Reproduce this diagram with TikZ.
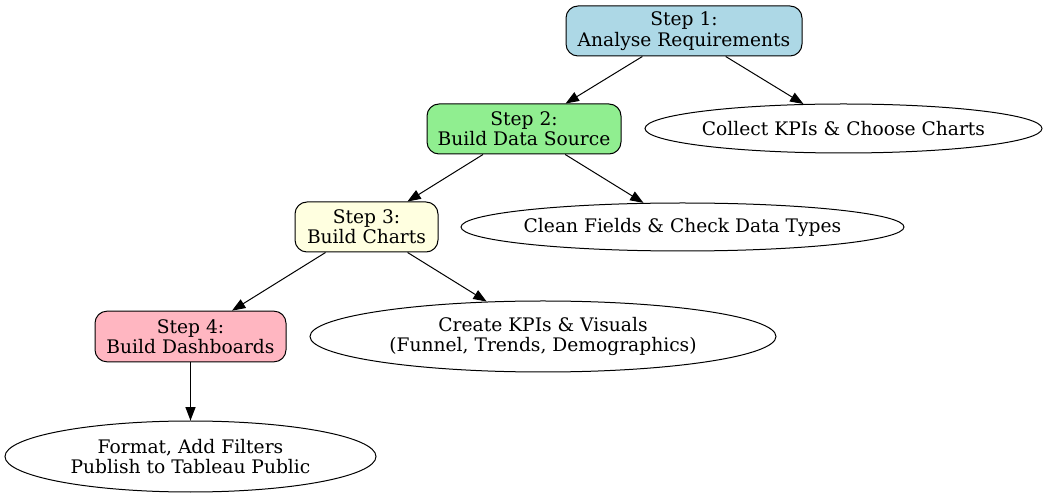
\documentclass[tikz,border=0pt]{standalone}
\usepackage{fontspec}
\setmainfont{DejaVu Serif}
\usetikzlibrary{shapes.geometric,arrows.meta}
\definecolor{cstepA}{RGB}{173,216,230}
\definecolor{cstepB}{RGB}{144,238,144}
\definecolor{cstepC}{RGB}{255,255,224}
\definecolor{cstepD}{RGB}{255,182,193}
\begin{document}
\begin{tikzpicture}[x=0.75pt,y=-0.75pt,
  every node/.style={font=\fontsize{14}{15.3}\selectfont, align=center, inner sep=0pt, line width=0.75pt},
  stepbox/.style={draw=black, rounded corners=9pt, rectangle, minimum height=37.5pt},
  taskell/.style={draw=black, ellipse, fill=white, inner xsep=-40pt, inner ysep=-10pt},
  conn/.style={draw=black, line width=0.75pt, -{Triangle[length=10pt,width=7.5pt]}}]
\useasboundingbox (0,0) rectangle (1049,498);
\node[stepbox, fill=cstepA, minimum width=177pt] (s1) at (684,31) {Step 1:\\Analyse Requirements};
\node[stepbox, fill=cstepB, minimum width=145.5pt] (s2) at (524,129) {Step 2:\\Build Data Source};
\node[taskell, minimum width=297.75pt, minimum height=36.75pt] (t1) at (843.5,128.5) {Collect KPIs \& Choose Charts};
\node[stepbox, fill=cstepC, minimum width=107.25pt] (s3) at (366.5,227) {Step 3:\\Build Charts};
\node[taskell, minimum width=332.25pt, minimum height=36pt] (t2) at (682.5,227) {Clean Fields \& Check Data Types};
\node[stepbox, fill=cstepD, minimum width=143.25pt, minimum height=38pt] (s4) at (190.5,336.5) {Step 4:\\Build Dashboards};
\node[taskell, minimum width=349.5pt, minimum height=53.25pt] (t3) at (543,336.5) {Create KPIs \& Visuals\\(Funnel, Trends, Demographics)};
\node[taskell, minimum width=278.25pt, minimum height=53.25pt] (t4) at (190.5,456.5) {Format, Add Filters\\Publish to Tableau Public};
\draw[conn] (s1) -- (s2);
\draw[conn] (s1) -- (t1);
\draw[conn] (s2) -- (s3);
\draw[conn] (s2) -- (t2);
\draw[conn] (s3) -- (s4);
\draw[conn] (s3) -- (t3);
\draw[conn] (s4) -- (t4);
\end{tikzpicture}
\end{document}
